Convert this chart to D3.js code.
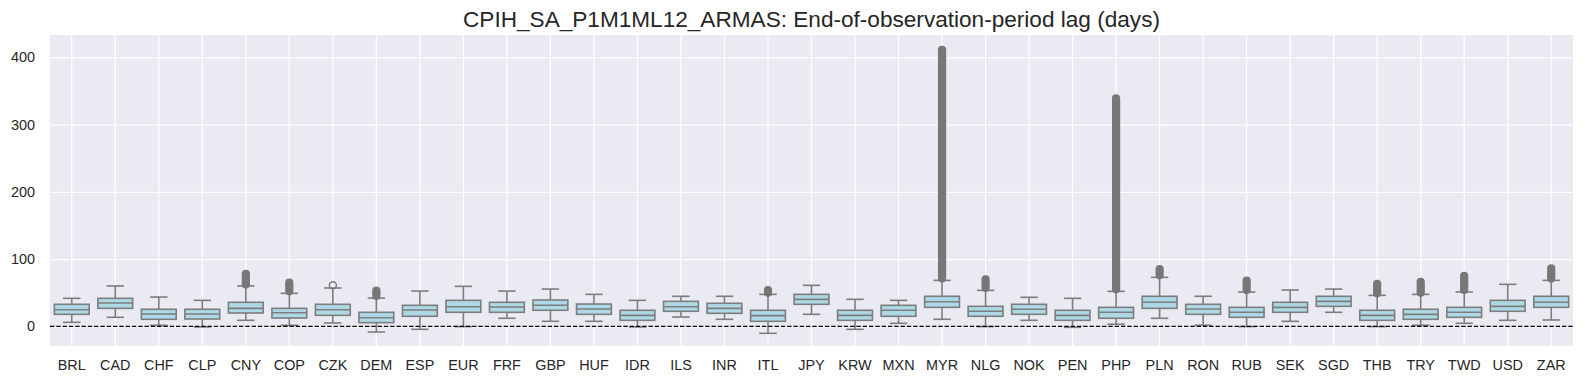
<!DOCTYPE html>
<html>
<head>
<meta charset="utf-8">
<script src="https://cdn.jsdelivr.net/npm/d3@7"></script>
<style>
  body { margin: 0; background: #fff; }
  text { font-family: "Liberation Sans", Arial, sans-serif; fill: #262626; }
</style>
</head>
<body>
<div class="chart"></div>
<script>
// category labels
var categories = ["BRL", "CAD", "CHF", "CLP", "CNY", "COP", "CZK", "DEM", "ESP", "EUR",
  "FRF", "GBP", "HUF", "IDR", "ILS", "INR", "ITL", "JPY", "KRW", "MXN",
  "MYR", "NLG", "NOK", "PEN", "PHP", "PLN", "RON", "RUB", "SEK", "SGD",
  "THB", "TRY", "TWD", "USD", "ZAR"];

// box statistics (days)
var whiskerLow = [5.9, 13.4, 1.5, -1, 8.9, 1.5, 4.9, -8.5, -4.5, -0.5,
  11.9, 7.4, 7.4, -1, 13.8, 10.4, -10.4, 17.8, -4.5, 4.4,
  10.4, -0.5, 8.9, -1.5, 3, 11.9, 1.5, -0.5, 7.4, 20.8,
  -0.5, 1.5, 4.4, 8.9, 9.4];
var q1 = [17.8, 26.7, 10.4, 10.8, 19.8, 12.3, 16.3, 5.4, 14.9, 20.8,
  20.8, 23.8, 17.8, 8.9, 22.3, 19.3, 7.4, 32.7, 8.9, 14.9,
  28.2, 14.9, 17.8, 8.9, 11.9, 26.7, 17.8, 13.4, 20.8, 29.7,
  8.9, 10.4, 13.4, 22.3, 28.2];
var median = [24.7, 34.6, 18.3, 18.3, 26.7, 20.2, 24.7, 12.8, 24.2, 29.1,
  28.7, 31.2, 25.7, 16.3, 29.1, 26.7, 15.8, 40.1, 16.3, 23.8,
  36.6, 22.3, 25.3, 16.3, 20.8, 35.7, 25.7, 20.8, 28.2, 37.1,
  16.3, 17.8, 20.8, 29.7, 35.7];
var q3 = [32.7, 41.6, 25.3, 25.3, 35.7, 26.7, 32.7, 20.8, 31.2, 38.6,
  35.7, 39.1, 33.1, 23.8, 37.1, 34.2, 23.8, 47.5, 23.8, 31.2,
  44.6, 29.7, 32.7, 23.8, 28.2, 44.6, 32.7, 28.2, 35.7, 44.6,
  23.8, 25.3, 28.2, 38.6, 44.6];
var whiskerHigh = [41.6, 60, 43.5, 38.6, 60, 49, 57, 42, 52.4, 59.4,
  52.4, 55.4, 47.5, 38.6, 44.6, 44.6, 47.5, 60.9, 40.1, 38.6,
  68.3, 53.5, 43.1, 41.6, 52, 72.8, 44.6, 51, 53.9, 55.4,
  46, 47.5, 51, 62.4, 68.3];

// outliers: lowest and highest flier (null = none); dense fliers overlap into a column
var outlierLow = [null, null, null, null, 62, 52, 61, 45, null, null,
  null, null, null, null, null, null, 50, null, null, null,
  71, 57, null, null, 55, 76, null, 54, null, null,
  49, 50, 54, null, 71];
var outlierHigh = [null, null, null, null, 78, 65, 61, 53, null, null,
  null, null, null, null, null, null, 54, null, null, null,
  411, 70, null, null, 339, 85, null, 68, null, null,
  63, 66, 75, null, 86];

var yTicks = [0, 100, 200, 300, 400];
var title = "CPIH_SA_P1M1ML12_ARMAS: End-of-observation-period lag (days)";

var svgWidth = 1584;
var svgHeight = 384;
var margin = { top: 35, right: 11, bottom: 38, left: 50 };
var width = svgWidth - margin.left - margin.right;
var height = svgHeight - margin.top - margin.bottom;

var boxFill = "#add8e6";
var lineGray = "#7d7d7d";
var flierGray = "#777777";

var svg = d3.select(".chart")
  .append("svg")
  .attr("width", svgWidth)
  .attr("height", svgHeight);

var chartGroup = svg.append("g")
  .attr("transform", `translate(${margin.left}, ${margin.top})`);

var xScale = d3.scaleBand()
  .domain(categories)
  .range([0, width])
  .padding(0);

var yScale = d3.scaleLinear()
  .domain([-29.3, 433.2])
  .range([height, 0]);

var bw = xScale.bandwidth();
var boxW = bw * 0.8;
var capW = boxW * 0.5;
var cx = d => xScale(d) + bw / 2;

// background
chartGroup.append("rect")
  .attr("width", width)
  .attr("height", height)
  .attr("fill", "#eaeaf2");

// grid lines
var yGrid = chartGroup.append("g")
  .call(d3.axisLeft(yScale).tickValues(yTicks).tickSize(-width).tickFormat(""));
yGrid.select(".domain").remove();
yGrid.selectAll("line").attr("stroke", "#fff").attr("stroke-width", 1.2);

var xGrid = chartGroup.append("g")
  .call(d3.axisBottom(xScale).tickSize(height).tickFormat(""));
xGrid.select(".domain").remove();
xGrid.selectAll("line").attr("stroke", "#fff").attr("stroke-width", 1.2);

// tick labels
var leftAxis = chartGroup.append("g")
  .call(d3.axisLeft(yScale).tickValues(yTicks).tickSize(0).tickPadding(15));
leftAxis.select(".domain").remove();
leftAxis.selectAll("text")
  .attr("font-size", "14.4px")
  .attr("fill", "#262626");

var bottomAxis = chartGroup.append("g")
  .attr("transform", `translate(0, ${height})`)
  .call(d3.axisBottom(xScale).tickSize(0).tickPadding(14));
bottomAxis.select(".domain").remove();
bottomAxis.selectAll("text")
  .attr("font-size", "14.4px")
  .attr("fill", "#262626");

var idx = categories.map((c, i) => i);

var boxes = chartGroup.append("g").selectAll("g")
  .data(idx)
  .enter()
  .append("g");

// whiskers
boxes.append("line")
  .attr("x1", i => cx(categories[i]))
  .attr("x2", i => cx(categories[i]))
  .attr("y1", i => yScale(whiskerLow[i]))
  .attr("y2", i => yScale(q1[i]));
boxes.append("line")
  .attr("x1", i => cx(categories[i]))
  .attr("x2", i => cx(categories[i]))
  .attr("y1", i => yScale(q3[i]))
  .attr("y2", i => yScale(whiskerHigh[i]));

// caps
boxes.append("line")
  .attr("x1", i => cx(categories[i]) - capW / 2)
  .attr("x2", i => cx(categories[i]) + capW / 2)
  .attr("y1", i => yScale(whiskerLow[i]))
  .attr("y2", i => yScale(whiskerLow[i]));
boxes.append("line")
  .attr("x1", i => cx(categories[i]) - capW / 2)
  .attr("x2", i => cx(categories[i]) + capW / 2)
  .attr("y1", i => yScale(whiskerHigh[i]))
  .attr("y2", i => yScale(whiskerHigh[i]));

// box
boxes.append("rect")
  .attr("x", i => cx(categories[i]) - boxW / 2)
  .attr("width", boxW)
  .attr("y", i => yScale(q3[i]))
  .attr("height", i => yScale(q1[i]) - yScale(q3[i]))
  .attr("fill", boxFill);

// median
boxes.append("line")
  .attr("x1", i => cx(categories[i]) - boxW / 2)
  .attr("x2", i => cx(categories[i]) + boxW / 2)
  .attr("y1", i => yScale(median[i]))
  .attr("y2", i => yScale(median[i]));

boxes.selectAll("line, rect")
  .attr("stroke", lineGray)
  .attr("stroke-width", 1.6);

// fliers
var r = 3.5;
var fliers = boxes.filter(i => outlierLow[i] !== null);
fliers.filter(i => outlierLow[i] === outlierHigh[i])
  .append("circle")
  .attr("cx", i => cx(categories[i]))
  .attr("cy", i => yScale(outlierLow[i]))
  .attr("r", r)
  .attr("fill", "none")
  .attr("stroke", flierGray)
  .attr("stroke-width", 1.4);
fliers.filter(i => outlierLow[i] !== outlierHigh[i])
  .append("rect")
  .attr("x", i => cx(categories[i]) - r)
  .attr("width", 2 * r)
  .attr("y", i => yScale(outlierHigh[i]) - r)
  .attr("height", i => yScale(outlierLow[i]) - yScale(outlierHigh[i]) + 2 * r)
  .attr("rx", r)
  .attr("fill", flierGray)
  .attr("stroke", flierGray)
  .attr("stroke-width", 1.2);

// zero line
chartGroup.append("line")
  .attr("x1", 0)
  .attr("x2", width)
  .attr("y1", yScale(0))
  .attr("y2", yScale(0))
  .attr("stroke", "#000")
  .attr("stroke-width", 1.2)
  .attr("stroke-dasharray", "4.4,1.9");

// title
svg.append("text")
  .attr("x", margin.left + width / 2)
  .attr("y", 27)
  .attr("text-anchor", "middle")
  .attr("font-size", "22.6px")
  .text(title);
</script>
</body>
</html>
